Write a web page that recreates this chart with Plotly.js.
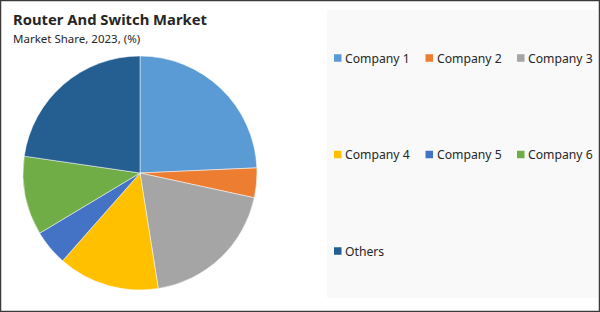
<!DOCTYPE html>
<html>
<head>
<meta charset="utf-8">
<script src="https://cdn.plot.ly/plotly-3.0.1.min.js"></script>
<style>html,body{margin:0;padding:0;background:#fff;}#chart{width:600px;height:312px;}</style>
</head>
<body>
<div id="chart"></div>
<script>
const categories = ["Company 1", "Company 2", "Company 3", "Company 4", "Company 5", "Company 6", "Others"];
const shares = [24.3, 4.1, 19.1, 14.0, 4.9, 10.9, 22.7];
const colors = ["#5B9BD5", "#ED7D31", "#A5A5A5", "#FFC000", "#4472C4", "#70AD47", "#255E91"];

const W = 600, H = 312;
const px = x => x / W;
const py = y => 1 - y / H;

const pie = {
  type: "pie",
  labels: categories,
  values: shares,
  sort: false,
  direction: "clockwise",
  rotation: 0,
  textinfo: "none",
  hoverinfo: "label+percent",
  marker: {colors: colors, line: {color: "#ffffff", width: 0.5}},
  domain: {x: [px(23), px(257)], y: [py(290), py(56)]},
  showlegend: false
};

const shapes = [
  // legend background
  {type: "rect", xref: "paper", yref: "paper", x0: px(327), x1: px(598), y0: py(298), y1: py(10),
   fillcolor: "#f9f9f9", line: {width: 0}, layer: "below"},
  // outer border
  {type: "rect", xref: "paper", yref: "paper", x0: px(0.5), x1: px(599.5), y0: py(311.5), y1: py(0.5),
   fillcolor: "rgba(0,0,0,0)", line: {color: "#3a3a3a", width: 1.5}}
];
const annotations = [
  {text: "<b>Router And Switch Market</b>", xref: "paper", yref: "paper", x: px(10.5), y: py(19),
   xanchor: "left", yanchor: "middle", showarrow: false,
   font: {family: "Noto Sans, Open Sans, sans-serif", size: 14.8, color: "#262626"}},
  {text: "Market Share, 2023, (%)", xref: "paper", yref: "paper", x: px(10.5), y: py(38),
   xanchor: "left", yanchor: "middle", showarrow: false,
   font: {family: "Noto Sans, Open Sans, sans-serif", size: 11.5, color: "#262626"}}
];
const colX = [334, 425.5, 517];
const rowY = [58, 154.5, 251];
categories.forEach((c, i) => {
  const cx = colX[i % 3], cy = rowY[Math.floor(i / 3)];
  shapes.push({type: "rect", xref: "paper", yref: "paper", x0: px(cx), x1: px(cx + 7.5),
    y0: py(cy + 3.75), y1: py(cy - 3.75), fillcolor: colors[i], line: {width: 0}});
  annotations.push({text: c, xref: "paper", yref: "paper", x: px(cx + 9.2), y: py(cy),
    xanchor: "left", yanchor: "middle", showarrow: false,
    font: {family: "Noto Sans, Open Sans, sans-serif", size: 12.2, color: "#262626"}});
});

Plotly.newPlot("chart", [pie], {
  width: W, height: H,
  margin: {l: 0, r: 0, t: 0, b: 0},
  paper_bgcolor: "#ffffff",
  showlegend: false,
  shapes: shapes,
  annotations: annotations
}, {staticPlot: true});
</script>
</body>
</html>
